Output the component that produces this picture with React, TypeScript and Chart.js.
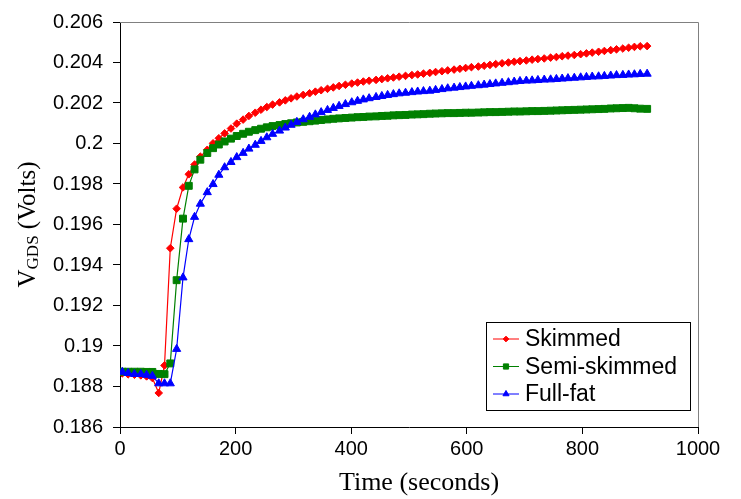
import React, { useEffect, useRef } from "react";
import { Chart, registerables } from "chart.js";
import { drawPoint } from "chart.js/helpers";

Chart.register(...registerables);

// ---- data ----
const times = [
  4, 14, 25, 36, 46, 56, 67, 77, 87, 98,
  109, 119, 129, 139, 151, 161, 171, 181, 192, 202,
  213, 223, 234, 244, 254, 264, 276, 286, 296, 306,
  317, 328, 338, 348, 359, 369, 379, 390, 401, 411,
  421, 431, 443, 453, 463, 473, 483, 494, 505, 515,
  525, 536, 546, 557, 567, 578, 588, 598, 608, 620,
  630, 640, 650, 661, 672, 682, 692, 703, 713, 723,
  734, 745, 755, 765, 775, 786, 797, 807, 817, 828,
  838, 849, 859, 870, 880, 890, 900, 912,
];

const skimmed = [
  0.18865, 0.1886, 0.18858, 0.18855, 0.1885, 0.18842, 0.18768, 0.18904, 0.19483, 0.19678,
  0.19783, 0.19848, 0.19896, 0.19935, 0.19969, 0.20001, 0.20026, 0.2005, 0.20074, 0.20098,
  0.20118, 0.20136, 0.20152, 0.20167, 0.2018, 0.20192, 0.20203, 0.20213, 0.20223, 0.20232,
  0.2024, 0.20248, 0.20256, 0.20263, 0.2027, 0.20277, 0.20284, 0.2029, 0.20296, 0.20301,
  0.20306, 0.2031, 0.20314, 0.20318, 0.20322, 0.20326, 0.2033, 0.20334, 0.20338, 0.20341,
  0.20345, 0.20349, 0.20353, 0.20357, 0.20361, 0.20365, 0.20369, 0.20373, 0.20377, 0.2038,
  0.20384, 0.20388, 0.20392, 0.20396, 0.204, 0.20404, 0.20407, 0.2041, 0.20414, 0.20417,
  0.2042, 0.20424, 0.20427, 0.20431, 0.20434, 0.20437, 0.20441, 0.20445, 0.20449, 0.20453,
  0.20457, 0.20461, 0.20465, 0.20469, 0.20473, 0.20477, 0.2048, 0.20481,
];

const semiSkimmed = [
  0.18873, 0.18873, 0.18873, 0.18873, 0.18872, 0.18872, 0.18862, 0.18861, 0.18914, 0.19325,
  0.19629, 0.19791, 0.19872, 0.1992, 0.19953, 0.19977, 0.19995, 0.2001, 0.20024, 0.20037,
  0.20048, 0.20058, 0.20066, 0.20073, 0.2008, 0.20086, 0.20091, 0.20096, 0.201, 0.20104,
  0.20107, 0.2011, 0.20113, 0.20116, 0.20119, 0.20122, 0.20124, 0.20126, 0.20128, 0.2013,
  0.20131, 0.20133, 0.20134, 0.20136, 0.20137, 0.20139, 0.2014, 0.20141, 0.20143, 0.20144,
  0.20145, 0.20147, 0.20148, 0.20149, 0.2015, 0.2015, 0.20151, 0.20152, 0.20152, 0.20153,
  0.20154, 0.20155, 0.20155, 0.20156, 0.20157, 0.20158, 0.20158, 0.20159, 0.2016, 0.2016,
  0.20161, 0.20162, 0.20163, 0.20164, 0.20165, 0.20166, 0.20167, 0.20168, 0.20169, 0.2017,
  0.20171, 0.20173, 0.20174, 0.20175, 0.20176, 0.20174, 0.20172, 0.20171,
];

const fullFat = [
  0.18872, 0.18866, 0.18861, 0.18861, 0.18857, 0.18852, 0.18815, 0.18815, 0.18815, 0.18985,
  0.19338, 0.19527, 0.19637, 0.19702, 0.19759, 0.19799, 0.19845, 0.19882, 0.19908, 0.19932,
  0.19953, 0.19974, 0.19993, 0.20012, 0.2003, 0.20047, 0.20063, 0.20078, 0.20092, 0.20106,
  0.20119, 0.20131, 0.20143, 0.20154, 0.20165, 0.20175, 0.20185, 0.20194, 0.20203, 0.2021,
  0.20217, 0.20223, 0.20229, 0.20234, 0.20239, 0.20243, 0.20247, 0.2025, 0.20253, 0.20256,
  0.20258, 0.2026, 0.20264, 0.20268, 0.20272, 0.20275, 0.20278, 0.20281, 0.20284, 0.20287,
  0.2029, 0.20293, 0.20296, 0.20299, 0.20302, 0.20305, 0.20308, 0.2031, 0.20311, 0.20313,
  0.20315, 0.20316, 0.20318, 0.2032, 0.20322, 0.20324, 0.20326, 0.20328, 0.2033, 0.20331,
  0.20333, 0.20335, 0.20337, 0.20338, 0.2034, 0.20341, 0.20343, 0.20344,
];

const seriesNames = ["Skimmed", "Semi-skimmed", "Full-fat"];
const xTickValues = [0, 200, 400, 600, 800, 1000];
const xTickLabels = ["0", "200", "400", "600", "800", "1000"];
const yTickValues = [0.186, 0.188, 0.19, 0.192, 0.194, 0.196, 0.198, 0.2, 0.202, 0.204, 0.206];
const yTickLabels = ["0.186", "0.188", "0.19", "0.192", "0.194", "0.196", "0.198", "0.2", "0.202", "0.204", "0.206"];
const xTitle = "Time (seconds)";
const yTitleMain = "V";
const yTitleSub = "GDS";
const yTitleRest = " (Volts)";

const SANS = 'Arial, "Liberation Sans", sans-serif';
const SERIF = '"Times New Roman", "Liberation Serif", serif';

const framePlugin = {
  id: "excelFrame",
  beforeDatasetsDraw(chart: any) {
    const { ctx, chartArea: a } = chart;
    ctx.save();
    ctx.strokeStyle = "#808080";
    ctx.lineWidth = 1;
    ctx.beginPath();
    ctx.moveTo(Math.round(a.left), Math.round(a.top) + 0.5);
    ctx.lineTo(Math.round(a.right) + 0.5, Math.round(a.top) + 0.5);
    ctx.lineTo(Math.round(a.right) + 0.5, Math.round(a.bottom));
    ctx.stroke();
    ctx.restore();
  },
};

const titlesPlugin = {
  id: "axisTitles",
  afterDraw(chart: any) {
    const { ctx, chartArea: a } = chart;
    // x title
    ctx.save();
    ctx.fillStyle = "#000";
    ctx.font = `26px ${SERIF}`;
    ctx.textAlign = "center";
    ctx.textBaseline = "middle";
    ctx.fillText(xTitle, (a.left + a.right) / 2 + 10, 483);
    ctx.restore();
    // y title with subscript
    const mainFont = `25px ${SERIF}`;
    const subFont = `17px ${SERIF}`;
    ctx.save();
    ctx.font = mainFont;
    const w1 = ctx.measureText(yTitleMain).width;
    const w3 = ctx.measureText(yTitleRest).width;
    ctx.font = subFont;
    const w2 = ctx.measureText(yTitleSub).width;
    const total = w1 + w2 + w3;
    const cy = (a.top + a.bottom) / 2;
    ctx.translate(35, cy + total / 2);
    ctx.rotate(-Math.PI / 2);
    ctx.fillStyle = "#000";
    ctx.textAlign = "left";
    ctx.textBaseline = "alphabetic";
    ctx.font = mainFont;
    ctx.fillText(yTitleMain, 0, 0);
    ctx.font = subFont;
    ctx.fillText(yTitleSub, w1, 3);
    ctx.font = mainFont;
    ctx.fillText(yTitleRest, w1 + w2, 0);
    ctx.restore();
  },
};

const legendPlugin = {
  id: "boxLegend",
  afterDraw(chart: any) {
    const { ctx, chartArea: a } = chart;
    const w = 204;
    const h = 88;
    const lx = Math.round(a.right) - 8 - w;
    const ly = Math.round(a.bottom) - 105;
    ctx.save();
    ctx.fillStyle = "#fff";
    ctx.fillRect(lx, ly, w, h);
    ctx.strokeStyle = "#000";
    ctx.lineWidth = 1;
    ctx.strokeRect(lx + 0.5, ly + 0.5, w, h);
    chart.data.datasets.forEach((ds: any, i: number) => {
      const cy = ly + 17 + i * 27.5;
      ctx.strokeStyle = ds.borderColor;
      ctx.lineWidth = 1;
      ctx.beginPath();
      ctx.moveTo(lx + 7, cy);
      ctx.lineTo(lx + 33, cy);
      ctx.stroke();
      ctx.fillStyle = ds.pointBackgroundColor;
      ctx.strokeStyle = ds.pointBorderColor;
      drawPoint(ctx, { pointStyle: ds.pointStyle, radius: ds.pointRadius * 0.75, borderWidth: 1, rotation: 0 } as any, lx + 20, cy);
      ctx.fillStyle = "#000";
      ctx.font = `23px ${SANS}`;
      ctx.textAlign = "left";
      ctx.textBaseline = "middle";
      ctx.fillText(ds.label, lx + 39, cy + 1);
    });
    ctx.restore();
  },
};

function makeSeries(label: string, values: number[], color: string, style: string, radius: number, order: number) {
  return {
    label,
    data: times.map((t, i) => ({ x: t, y: values[i] })),
    borderColor: color,
    backgroundColor: color,
    borderWidth: 1.2,
    pointStyle: style,
    pointRadius: radius,
    pointBorderWidth: 1,
    pointBackgroundColor: color,
    pointBorderColor: color,
    tension: 0,
    order,
  };
}

export default function App() {
  const ref = useRef<HTMLCanvasElement | null>(null);
  useEffect(() => {
    if (!ref.current) return;
    const chart = new Chart(ref.current, {
      type: "line",
      data: {
        datasets: [
          makeSeries(seriesNames[0], skimmed, "#FF0000", "rectRot", 3.8, 3),
          makeSeries(seriesNames[1], semiSkimmed, "#008000", "rect", 4.9, 2),
          makeSeries(seriesNames[2], fullFat, "#0000FF", "triangle", 4.7, 1),
        ] as any,
      },
      options: {
        responsive: true,
        maintainAspectRatio: false,
        animation: false,
        events: [],
        layout: { padding: { left: 40, right: 43, top: 15, bottom: 0 } },
        plugins: { legend: { display: false }, tooltip: { enabled: false } },
        scales: {
          x: {
            type: "linear",
            min: 0,
            max: 1000,
            afterBuildTicks: (s: any) => {
              s.ticks = xTickValues.map((v) => ({ value: v }));
            },
            afterFit: (s: any) => {
              s.height = 72;
            },
            ticks: {
              font: { family: SANS, size: 20 },
              color: "#000",
              padding: 3,
              maxRotation: 0,
              autoSkip: false,
              callback: (_v: any, i: number) => xTickLabels[i],
            },
            grid: { drawOnChartArea: false, drawTicks: true, tickLength: 7, color: "#000" },
            border: { display: true, color: "#000", width: 1 },
          },
          y: {
            type: "linear",
            min: 0.186,
            max: 0.206,
            afterBuildTicks: (s: any) => {
              s.ticks = yTickValues.map((v) => ({ value: v }));
            },
            afterFit: (s: any) => {
              s.width = 80;
            },
            ticks: {
              font: { family: SANS, size: 20 },
              color: "#000",
              padding: 10,
              autoSkip: false,
              callback: (_v: any, i: number) => yTickLabels[i],
            },
            grid: { drawOnChartArea: false, drawTicks: true, tickLength: 7, color: "#000" },
            border: { display: true, color: "#000", width: 1 },
          },
        },
      } as any,
      plugins: [framePlugin, titlesPlugin, legendPlugin],
    });
    return () => chart.destroy();
  }, []);
  return (
    <div style={{ position: "absolute", left: 0, top: 0, width: 741, height: 499, background: "#fff" }}>
      <canvas ref={ref} />
    </div>
  );
}
